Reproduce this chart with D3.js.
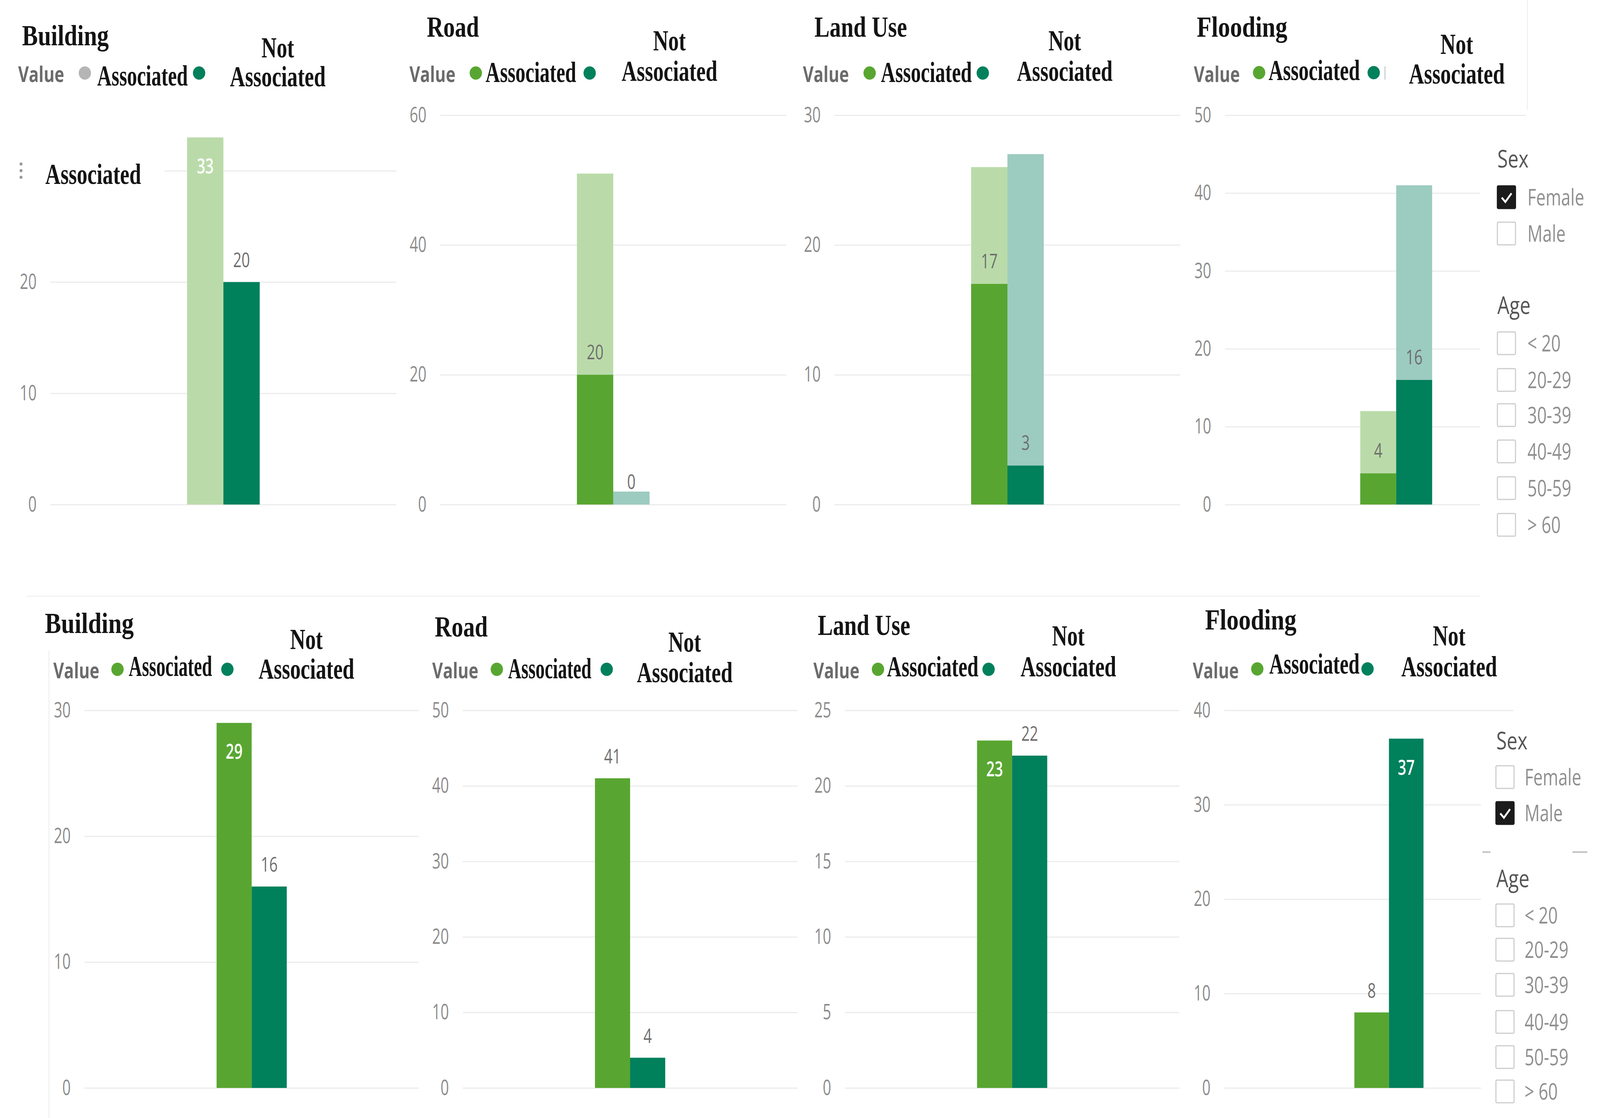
<!DOCTYPE html>
<html lang="en">
<head>
<meta charset="UTF-8">
<title>Hazard association by sex</title>
<script src="https://d3js.org/d3.v7.min.js"></script>
<style>
  html, body { margin: 0; padding: 0; background: #fff; overflow: hidden; }
  #chart { display: block; width: 100vw; height: 100vh; }
  .serif { font-family: "Liberation Serif", "DejaVu Serif", serif; font-weight: bold; fill: #141414; font-size: 74px; }
  .legval { font-family: "Open Sans", "Noto Sans", sans-serif; font-weight: bold; fill: #6b6b6b; font-size: 56px; }
  .tick text { fill: #8c8c8c; font-family: "Open Sans", "Noto Sans", sans-serif; font-size: 54px; }
  .tick line { stroke: #ececec; stroke-width: 3; }
  .lbl { font-family: "Open Sans", "Noto Sans", sans-serif; font-size: 52px; }
  .slhead { font-family: "Open Sans", "Noto Sans", sans-serif; font-size: 62px; fill: #555; }
  .slitem { font-family: "Open Sans", "Noto Sans", sans-serif; font-size: 58px; fill: #8f8f8f; }
</style>
</head>
<body>
<svg id="chart" viewBox="0 0 4412 2863" preserveAspectRatio="none"></svg>
<script>
// ---- data ----
const hazards = ["Building", "Road", "Land Use", "Flooding"];
const categories = ["Associated", "Not Associated"];
const sexOptions = ["Female", "Male"];
const ageOptions = ["< 20", "20-29", "30-39", "40-49", "50-59", "> 60"];
const selectedSex = ["Female", "Male"];

// female row: full totals drawn faded, highlighted (cross-filtered) part solid
const femaleTotals = [[33, 20], [51, 2], [26, 27], [12, 41]];
const femaleHighlight = [[null, 20], [20, 0], [17, 3], [4, 16]];
const femaleAxisMax = [35, 60, 30, 50];
const femaleTicks = [[0, 10, 20, 30], [0, 20, 40, 60], [0, 10, 20, 30], [0, 10, 20, 30, 40, 50]];

// male row
const maleValues = [[29, 16], [41, 4], [23, 22], [8, 37]];
const maleAxisMax = [30, 50, 25, 40];
const maleTicks = [[0, 10, 20, 30], [0, 10, 20, 30, 40, 50], [0, 5, 10, 15, 20, 25], [0, 10, 20, 30, 40]];

// ---- look ----
const solid = ["#58a631", "#01805c"];
const faded = ["#badba9", "#9ccbbf"];
const greyDot = "#b5b5b5";

const rows = [
  { y0: 1292, yTop: 295, panels: [
    { x0: 139, x1: 1093, gridEnd: 1093, titleX: 61, titleW: 239, titleY: 116, valueX: 50, legY: 210, dotY: 187, dot1X: 234, assocX: 268, assocW: 250, assocY: 219, dot2X: 549, notCX: 766, notY: 147, na2Y: 221 },
    { x0: 1214, x1: 2168, gridEnd: 2168, titleX: 1177, titleW: 144, titleY: 94, valueX: 1129, legY: 210, dotY: 187, dot1X: 1312, assocX: 1339, assocW: 250, assocY: 210, dot2X: 1626, notCX: 1846, notY: 129, na2Y: 207 },
    { x0: 2301, x1: 3255, gridEnd: 3255, titleX: 2246, titleW: 255, titleY: 94, valueX: 2214, legY: 210, dotY: 187, dot1X: 2398, assocX: 2429, assocW: 251, assocY: 210, dot2X: 2710, notCX: 2936, notY: 129, na2Y: 207 },
    { x0: 3378, x1: 4322, gridEnd: 4208, titleX: 3300, titleW: 250, titleY: 94, valueX: 3292, legY: 210, dotY: 186, dot1X: 3472, assocX: 3498, assocW: 252, assocY: 205, dot2X: 3788, notCX: 4017, notY: 138, na2Y: 214 }
  ]},
  { y0: 2786, yTop: 1819, panels: [
    { x0: 233, x1: 1155, gridEnd: 1155, titleX: 124, titleW: 245, titleY: 1621, valueX: 147, legY: 1737, dotY: 1714, dot1X: 324, assocX: 355, assocW: 230, assocY: 1731, dot2X: 627, notCX: 845, notY: 1662, na2Y: 1738 },
    { x0: 1276, x1: 2199, gridEnd: 2199, titleX: 1199, titleW: 146, titleY: 1630, valueX: 1192, legY: 1737, dotY: 1714, dot1X: 1370, assocX: 1401, assocW: 230, assocY: 1737, dot2X: 1673, notCX: 1888, notY: 1669, na2Y: 1747 },
    { x0: 2330, x1: 3252, gridEnd: 3252, titleX: 2255, titleW: 255, titleY: 1626, valueX: 2243, legY: 1737, dotY: 1714, dot1X: 2421, assocX: 2446, assocW: 252, assocY: 1732, dot2X: 2726, notCX: 2946, notY: 1653, na2Y: 1732 },
    { x0: 3376, x1: 4284, gridEnd: 4173, titleX: 3323, titleW: 252, titleY: 1612, valueX: 3289, legY: 1737, dotY: 1713, dot1X: 3467, assocX: 3500, assocW: 249, assocY: 1725, dot2X: 3771, notCX: 3996, notY: 1653, na2Y: 1732 }
  ]}
];

const svg = d3.select("#chart");

function fitText(g, str, x, y, w, cls, anchor) {
  return g.append("text")
    .attr("class", cls)
    .attr("x", x).attr("y", y)
    .attr("text-anchor", anchor || "start")
    .attr("textLength", w)
    .attr("lengthAdjust", "spacingAndGlyphs")
    .text(str);
}

function squeezed(g, str, x, y, k, cls, anchor) {
  return g.append("text")
    .attr("class", cls)
    .attr("transform", `translate(${x},${y}) scale(${k},1)`)
    .attr("text-anchor", anchor || "middle")
    .text(str);
}

function drawPanel(row, L, title, totals, highlight, axisMax, ticks) {
  const g = svg.append("g");

  const y = d3.scaleLinear().domain([0, axisMax]).range([row.y0, row.yTop]);
  const x = d3.scaleBand().domain([title]).range([L.x0, L.x1]).padding(0.653);
  const xi = d3.scaleBand().domain(categories).range([0, x.bandwidth()]);

  // gridlines + tick labels
  const ax = g.append("g")
    .attr("transform", `translate(${L.x0},0)`)
    .call(d3.axisLeft(y).tickValues(ticks).tickSize(-(L.gridEnd - L.x0)).tickFormat(d3.format("d")));
  ax.select(".domain").remove();
  ax.selectAll(".tick text")
    .attr("x", 0)
    .attr("transform", "translate(-38,0) scale(0.75,1)");

  // bars
  categories.forEach((c, i) => {
    const t = totals[i], h = highlight[i];
    const bx = x(title) + xi(c), bw = xi.bandwidth();
    if (h === null || h < t) {
      g.append("rect").attr("x", bx).attr("y", y(t)).attr("width", bw)
        .attr("height", y(0) - y(t)).attr("fill", faded[i]);
    }
    if (h !== null && h > 0) {
      g.append("rect").attr("x", bx).attr("y", y(h)).attr("width", bw)
        .attr("height", y(0) - y(h)).attr("fill", solid[i]);
    }
    // data label
    const v = h === null ? t : h;
    const cx = bx + bw / 2;
    if (h !== null && h < t) {
      squeezed(g, v, cx, y(h) - 40, 0.78, "lbl").attr("fill", "#6e6e6e");
    } else if (y(t) - row.yTop < 100) {
      squeezed(g, v, cx, y(t) + 92, 0.78, "lbl").attr("fill", "#fff").attr("font-weight", 600);
    } else {
      squeezed(g, v, cx, y(t) - 38, 0.78, "lbl").attr("fill", "#6e6e6e");
    }
  });

  // title and legend
  fitText(g, title, L.titleX, L.titleY, L.titleW, "serif");
  fitText(g, "Value", L.valueX, L.legY, 127, "legval");
  const dot1 = highlight[0] === null ? greyDot : solid[0];
  g.append("circle").attr("cx", L.dot1X).attr("cy", L.dotY).attr("r", 17).attr("fill", dot1);
  fitText(g, categories[0], L.assocX, L.assocY, L.assocW, "serif");
  g.append("circle").attr("cx", L.dot2X).attr("cy", L.dotY).attr("r", 17).attr("fill", solid[1]);
  const parts = categories[1].split(" ");
  fitText(g, parts[0], L.notCX, L.notY, 90, "serif", "middle");
  fitText(g, parts[1], L.notCX, L.na2Y, 264, "serif", "middle");
  return g;
}

// top row (female selected)
hazards.forEach((hz, i) => {
  drawPanel(rows[0], rows[0].panels[i], hz, femaleTotals[i], femaleHighlight[i], femaleAxisMax[i], femaleTicks[i]);
});
// bottom row (male selected)
hazards.forEach((hz, i) => {
  drawPanel(rows[1], rows[1].panels[i], hz, maleValues[i], maleValues[i], maleAxisMax[i], maleTicks[i]);
});

// stray legend box overlapping the first chart
const ov = svg.append("g");
ov.append("rect").attr("x", 0).attr("y", 400).attr("width", 454).attr("height", 80).attr("fill", "#fff");
[420, 437, 454].forEach(cy => ov.append("circle").attr("cx", 58).attr("cy", cy).attr("r", 4).attr("fill", "#9a9a9a"));
fitText(ov, categories[0], 125, 471, 264, "serif");

// small grey tick after the teal legend dot in top flooding panel
svg.append("rect").attr("x", 3817).attr("y", 170).attr("width", 4).attr("height", 34).attr("fill", "#d6d6d6");

// faint visual borders
const border = "#f1f1f1";
svg.append("line").attr("x1", 4212).attr("x2", 4212).attr("y1", 0).attr("y2", 282).attr("stroke", border).attr("stroke-width", 3);
svg.append("line").attr("x1", 75).attr("x2", 4080).attr("y1", 1527).attr("y2", 1527).attr("stroke", border).attr("stroke-width", 3);
svg.append("line").attr("x1", 135).attr("x2", 135).attr("y1", 1666).attr("y2", 2863).attr("stroke", border).attr("stroke-width", 3);

// slicers
function drawSlicer(top, ys, selected) {
  const g = svg.append("g");
  g.append("rect").attr("x", top.left).attr("y", top.top).attr("width", 4412 - top.left)
    .attr("height", top.bottom - top.top).attr("fill", "#fff");
  squeezed(g, "Sex", top.textX, ys.sexY, 0.85, "slhead", "start");
  squeezed(g, "Age", top.textX, ys.ageY, 0.85, "slhead", "start");
  const items = sexOptions.map((s, i) => ({ label: s, cy: ys.sexItems[i], checked: s === selected }))
    .concat(ageOptions.map((a, i) => ({ label: a, cy: ys.ageItems[i], checked: false })));
  items.forEach(it => {
    g.append("rect").attr("x", top.boxX).attr("y", it.cy - 29).attr("width", 50).attr("height", 58)
      .attr("rx", 3).attr("fill", it.checked ? "#1b1b1b" : "#fff")
      .attr("stroke", it.checked ? "#1b1b1b" : "#cdcdcd").attr("stroke-width", 3);
    if (it.checked) {
      g.append("path")
        .attr("d", `M${top.boxX + 12},${it.cy + 1} L${top.boxX + 22},${it.cy + 12} L${top.boxX + 39},${it.cy - 10}`)
        .attr("fill", "none").attr("stroke", "#fff").attr("stroke-width", 5);
    }
    squeezed(g, it.label, top.labelX, it.cy + 21, 0.8, "slitem", "start");
  });
  return g;
}

drawSlicer({ left: 4081, top: 330, bottom: 1400, textX: 4129, boxX: 4129, labelX: 4212 },
  { sexY: 429, ageY: 804, sexItems: [505, 598], ageItems: [879, 973, 1063, 1156, 1250, 1344] }, selectedSex[0]);
const s2 = drawSlicer({ left: 4084, top: 1846, bottom: 2863, textX: 4126, boxX: 4125, labelX: 4204 },
  { sexY: 1919, ageY: 2272, sexItems: [1990, 2082], ageItems: [2344, 2432, 2522, 2617, 2707, 2795] }, selectedSex[1]);
s2.append("line").attr("x1", 4088).attr("x2", 4110).attr("y1", 2182).attr("y2", 2182).attr("stroke", "#b0b0b0").attr("stroke-width", 3);
s2.append("line").attr("x1", 4336).attr("x2", 4377).attr("y1", 2182).attr("y2", 2182).attr("stroke", "#b0b0b0").attr("stroke-width", 3);
</script>
</body>
</html>
